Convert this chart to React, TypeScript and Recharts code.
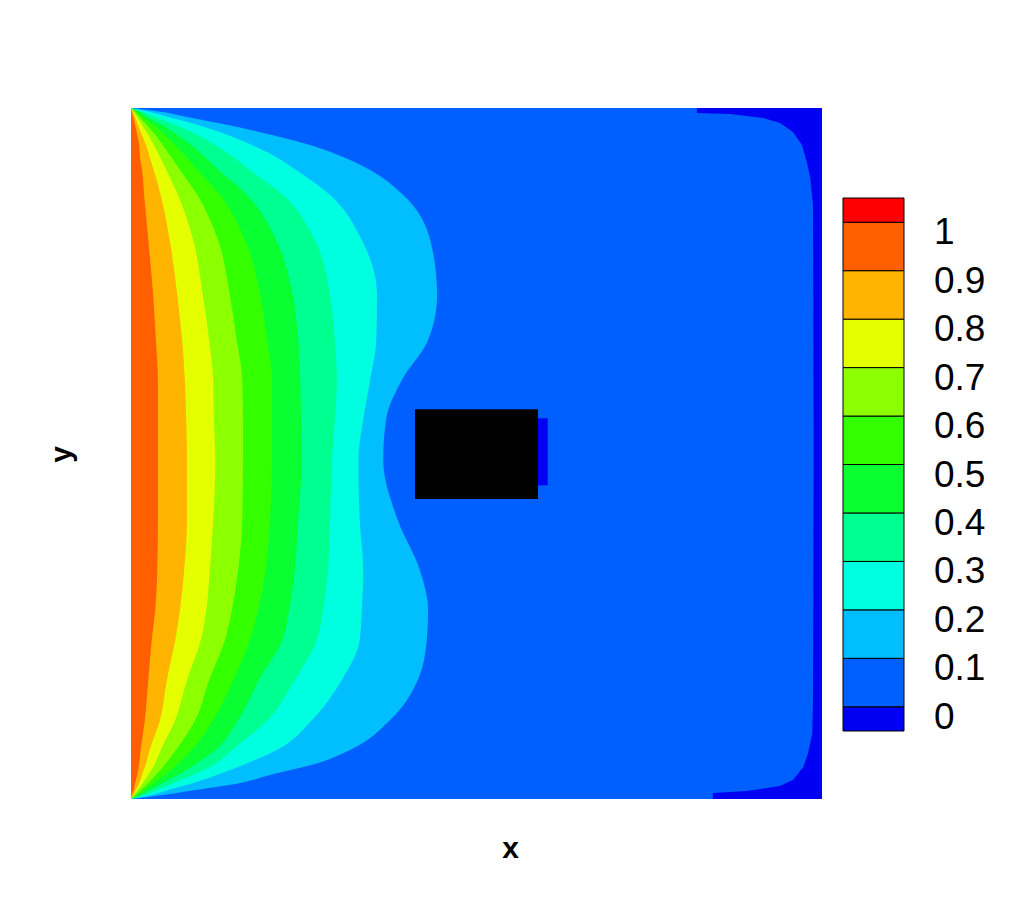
import React from 'react';
import { ComposedChart, Area, XAxis, YAxis, ReferenceArea, BarChart, Bar } from 'recharts';

// vertical positions (y, bottom wall = 0, top wall = 1) of the rows at which the contour edges are read
const rowY = [0, 0.0058, 0.013, 0.0232, 0.0347, 0.0521, 0.0709, 0.1143, 0.1722, 0.2301, 0.2735, 0.3314, 0.4038, 0.4906, 0.5485, 0.6064, 0.6643, 0.7294, 0.809, 0.8741, 0.9103, 0.9291, 0.9465, 0.9609, 0.9754, 0.987, 0.9942, 1];

// x position of each contour level along those rows
const edge09 = [0, 0.001, 0.004, 0.006, 0.009, 0.012, 0.014, 0.02, 0.025, 0.03, 0.035, 0.038, 0.039, 0.039, 0.039, 0.039, 0.036, 0.032, 0.025, 0.019, 0.016, 0.013, 0.012, 0.009, 0.006, 0.003, 0.001, 0];
const edge08 = [0, 0.003, 0.007, 0.012, 0.016, 0.022, 0.027, 0.042, 0.052, 0.064, 0.071, 0.077, 0.081, 0.081, 0.08, 0.078, 0.074, 0.067, 0.056, 0.043, 0.033, 0.027, 0.022, 0.016, 0.01, 0.006, 0.003, 0];
const edge07 = [0, 0.004, 0.01, 0.017, 0.025, 0.035, 0.043, 0.064, 0.081, 0.101, 0.109, 0.114, 0.119, 0.122, 0.12, 0.119, 0.113, 0.104, 0.09, 0.068, 0.051, 0.042, 0.033, 0.025, 0.016, 0.009, 0.004, 0];
const edge06 = [0, 0.007, 0.014, 0.025, 0.036, 0.051, 0.065, 0.093, 0.113, 0.136, 0.146, 0.155, 0.161, 0.162, 0.162, 0.161, 0.153, 0.143, 0.126, 0.096, 0.071, 0.058, 0.046, 0.035, 0.023, 0.012, 0.006, 0];
const edge05 = [0, 0.01, 0.02, 0.033, 0.049, 0.069, 0.088, 0.119, 0.148, 0.172, 0.184, 0.195, 0.201, 0.204, 0.204, 0.204, 0.197, 0.187, 0.165, 0.129, 0.096, 0.08, 0.064, 0.049, 0.033, 0.017, 0.009, 0];
const edge04 = [0, 0.014, 0.027, 0.046, 0.068, 0.096, 0.122, 0.155, 0.185, 0.219, 0.229, 0.237, 0.242, 0.247, 0.246, 0.245, 0.242, 0.234, 0.21, 0.168, 0.127, 0.107, 0.087, 0.067, 0.045, 0.023, 0.012, 0];
const edge03 = [0, 0.02, 0.038, 0.062, 0.09, 0.124, 0.146, 0.198, 0.237, 0.269, 0.278, 0.285, 0.288, 0.291, 0.295, 0.298, 0.295, 0.288, 0.266, 0.22, 0.172, 0.148, 0.122, 0.096, 0.065, 0.035, 0.017, 0];
const edge02 = [0, 0.029, 0.054, 0.09, 0.124, 0.169, 0.211, 0.262, 0.305, 0.331, 0.334, 0.336, 0.331, 0.329, 0.336, 0.346, 0.355, 0.356, 0.334, 0.288, 0.239, 0.21, 0.175, 0.14, 0.097, 0.054, 0.027, 0];
const edge01 = [0, 0.046, 0.093, 0.158, 0.201, 0.271, 0.317, 0.375, 0.415, 0.428, 0.43, 0.418, 0.386, 0.365, 0.369, 0.392, 0.43, 0.443, 0.433, 0.394, 0.346, 0.307, 0.259, 0.204, 0.14, 0.081, 0.045, 0];

// edge of the coldest (below 0) region near the right wall
const coldY = [0, 0.0087, 0.0116, 0.0188, 0.0275, 0.0463, 0.0666, 0.0955, 0.1433, 0.505, 0.8596, 0.8987, 0.9219, 0.9465, 0.9653, 0.9783, 0.9855, 0.9913, 0.9928, 1];
const coldX = [0.842, 0.842, 0.891, 0.939, 0.958, 0.973, 0.98, 0.986, 0.987, 0.988, 0.987, 0.983, 0.978, 0.971, 0.958, 0.939, 0.915, 0.867, 0.819, 0.819];

// obstacle and the small cold patch behind it
const obstacleX = [0.411, 0.589];
const obstacleY = [0.434, 0.564];
const wakeX = [0.589, 0.603];
const wakeY = [0.454, 0.551];

// colour levels (bottom to top)
const levelColors = ['#0000F2', '#0060FF', '#00BEFF', '#00FFE1', '#00FF91', '#0AFF32', '#34FF00', '#8CFF00', '#E6FF00', '#FFB400', '#FF5F00', '#FF0000'];
const levelSizes = [0.05, 0.1, 0.1, 0.1, 0.1, 0.1, 0.1, 0.1, 0.1, 0.1, 0.1, 0.05];
const levelTicks = [0.05, 0.15, 0.25, 0.35, 0.45, 0.55, 0.65, 0.75, 0.85, 0.95, 1.05];
const levelLabels = ['0', '0.1', '0.2', '0.3', '0.4', '0.5', '0.6', '0.7', '0.8', '0.9', '1'];

const edges = [edge01, edge02, edge03, edge04, edge05, edge06, edge07, edge08, edge09];
const contourRows = rowY.map((y, i) => {
  const row: Record<string, number> = { y };
  edges.forEach((e, k) => {
    row['e' + (k + 1)] = e[i];
  });
  return row;
});
const coldRows = coldY.map((y, i) => ({ y, c: coldX[i] }));
const fullRows = [{ y: 0, f: 1 }, { y: 1, f: 1 }];

const barRow = [
  levelSizes.reduce((acc: Record<string, any>, v, i) => {
    acc['s' + i] = v;
    return acc;
  }, { name: 'bar' }),
];

const FONT = '"Liberation Sans", Arial, sans-serif';

const ColorTick = (props: any) => {
  const { x, y, index } = props;
  return (
    <text x={x} y={y + 22} textAnchor="start" fontSize={37} fontFamily={FONT} fill="#000">
      {levelLabels[index]}
    </text>
  );
};

export default function App() {
  return (
    <div style={{ position: 'absolute', left: 0, top: 0, width: 1012, height: 900, background: '#fff' }}>
      <div style={{ position: 'absolute', left: 0, top: 0 }}>
        <ComposedChart
          width={1012}
          height={900}
          layout="vertical"
          margin={{ top: 108, right: 190, bottom: 0, left: 0 }}
        >
          <XAxis
            type="number"
            domain={[0, 1]}
            allowDataOverflow
            height={101}
            tick={false}
            tickLine={false}
            axisLine={false}
            label={{
              content: (p: any) => {
                const vb = p.viewBox;
                return (
                  <text x={vb.x + vb.width / 2 + 34} y={vb.y + 59} textAnchor="middle" fontSize={30} fontWeight="bold" fontFamily={FONT} fill="#000">
                    x
                  </text>
                );
              },
            }}
          />
          <YAxis
            type="number"
            dataKey="y"
            domain={[0, 1]}
            reversed
            allowDataOverflow
            width={131}
            tick={false}
            tickLine={false}
            axisLine={false}
            label={{
              content: (p: any) => {
                const vb = p.viewBox;
                const cx = vb.x + 71;
                const cy = vb.y + vb.height / 2 + 1;
                return (
                  <text x={cx} y={cy} transform={`rotate(-90, ${cx}, ${cy})`} textAnchor="middle" fontSize={30} fontWeight="bold" fontFamily={FONT} fill="#000">
                    y
                  </text>
                );
              },
            }}
          />
          <Area data={fullRows} dataKey="f" type="linear" fill={levelColors[0]} fillOpacity={1} stroke="none" isAnimationActive={false} />
          <Area data={coldRows} dataKey="c" type="linear" fill={levelColors[1]} fillOpacity={1} stroke="none" isAnimationActive={false} />
          {edges.map((_, k) => (
            <Area
              key={k}
              data={contourRows}
              dataKey={'e' + (k + 1)}
              type="monotone"
              fill={levelColors[k + 2]}
              fillOpacity={1}
              stroke="none"
              isAnimationActive={false}
            />
          ))}
          <ReferenceArea x1={wakeX[0]} x2={wakeX[1]} y1={wakeY[0]} y2={wakeY[1]} fill={levelColors[0]} fillOpacity={1} stroke="none" />
          <ReferenceArea x1={obstacleX[0]} x2={obstacleX[1]} y1={obstacleY[0]} y2={obstacleY[1]} fill="#000" fillOpacity={1} stroke="none" />
        </ComposedChart>
      </div>
      <div style={{ position: 'absolute', left: 835, top: 190 }}>
        <BarChart
          width={177}
          height={549}
          data={barRow}
          margin={{ top: 8, right: 0, bottom: 8, left: 8 }}
          barCategoryGap={0}
          barGap={0}
        >
          <XAxis dataKey="name" hide />
          <YAxis
            orientation="right"
            type="number"
            domain={[0, 1.1]}
            ticks={levelTicks}
            interval={0}
            width={108}
            axisLine={false}
            tickLine={false}
            tickSize={0}
            tickMargin={30}
            tick={<ColorTick />}
          />
          {levelColors.map((c, i) => (
            <Bar key={i} dataKey={'s' + i} stackId="bar" fill={c} stroke="#000" strokeWidth={1} isAnimationActive={false} />
          ))}
        </BarChart>
      </div>
    </div>
  );
}
